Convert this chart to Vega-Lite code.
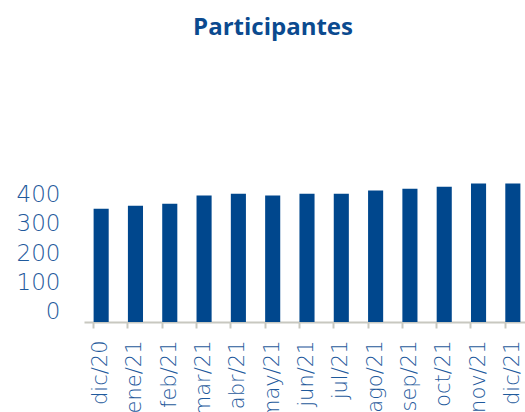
{
  "$schema": "https://vega.github.io/schema/vega-lite/v6.json",
  "autosize": "none",
  "padding": {"left": 84, "top": 60, "right": 0, "bottom": 90},
  "width": 446,
  "height": 262,
  "background": "white",
  "title": {
    "text": "Participantes",
    "font": "Open Sans",
    "fontSize": 24,
    "fontWeight": "bold",
    "color": "#0B4A8F",
    "anchor": "middle",
    "frame": "group",
    "dx": -34,
    "offset": 20
  },
  "data": {
    "values": [
      {"mes": "dic/20", "participantes": 352},
      {"mes": "ene/21", "participantes": 362},
      {"mes": "feb/21", "participantes": 369},
      {"mes": "mar/21", "participantes": 397},
      {"mes": "abr/21", "participantes": 403},
      {"mes": "may/21", "participantes": 397},
      {"mes": "jun/21", "participantes": 403},
      {"mes": "jul/21", "participantes": 403},
      {"mes": "ago/21", "participantes": 414},
      {"mes": "sep/21", "participantes": 420},
      {"mes": "oct/21", "participantes": 427},
      {"mes": "nov/21", "participantes": 438},
      {"mes": "dic/21", "participantes": 438}
    ]
  },
  "mark": {"type": "bar", "color": "#00478D"},
  "encoding": {
    "x": {
      "field": "mes",
      "type": "nominal",
      "sort": null,
      "scale": {"paddingInner": 0.56, "paddingOuter": 0.28},
      "axis": {
        "title": null,
        "labelAngle": -90,
        "labelAlign": "right",
        "labelBaseline": "middle",
        "labelFont": "DejaVu Sans",
        "labelFontWeight": 200,
        "labelFontSize": 21,
        "labelColor": "#1F5A9C",
        "labelPadding": 12,
        "labelOverlap": false,
        "labelBound": false,
        "domainColor": "#C8C8C0",
        "domainWidth": 2,
        "tickColor": "#C8C8C0",
        "tickWidth": 2,
        "tickSize": 6,
        "bandPosition": 0,
        "grid": false
      }
    },
    "y": {
      "field": "participantes",
      "type": "quantitative",
      "scale": {"domain": [-35, 860], "nice": false, "zero": false},
      "axis": {
        "title": null,
        "values": [0, 100, 200, 300, 400],
        "domain": false,
        "ticks": false,
        "grid": false,
        "labelFont": "DejaVu Sans",
        "labelFontWeight": 200,
        "labelFontSize": 23,
        "labelColor": "#1F5A9C",
        "labelPadding": 24
      }
    },
    "y2": {"datum": -35}
  },
  "config": {"view": {"stroke": null}}
}
